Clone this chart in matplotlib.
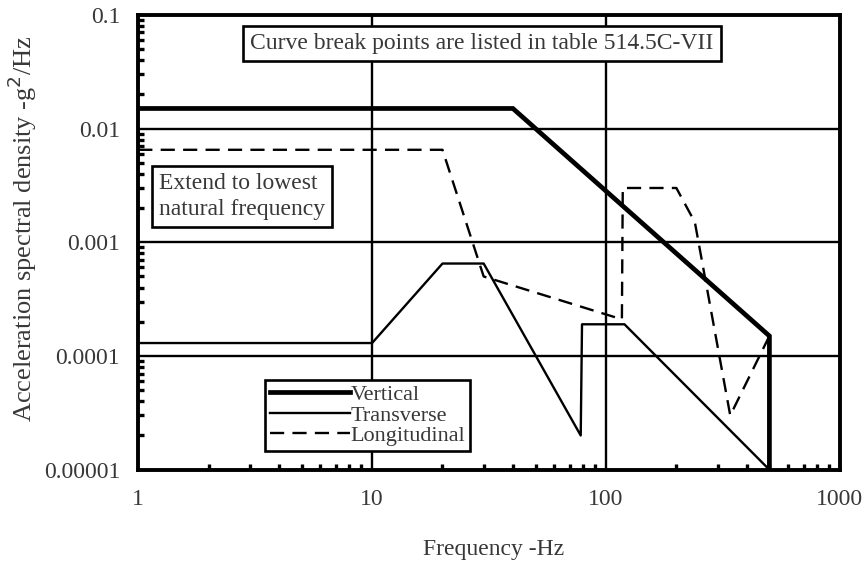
import matplotlib
matplotlib.use("Agg")
import matplotlib.pyplot as plt
from matplotlib.ticker import FixedLocator, FixedFormatter, LogLocator, NullFormatter

plt.rcParams["font.family"] = ["Liberation Serif", "DejaVu Serif"]

# break points (Hz, g^2/Hz)
vert_f = [1, 40, 500, 500]
vert_psd = [0.015, 0.015, 0.00015, 0.00001]

trans_f = [1, 10, 20, 30, 78, 79, 120, 500]
trans_psd = [0.00013, 0.00013, 0.00065, 0.00065, 0.00002, 0.00019, 0.00019, 0.00001]

long_f = [1, 20, 30, 117, 118, 200, 240, 340, 500]
long_psd = [0.0065, 0.0065, 0.0005, 0.00021, 0.003, 0.003, 0.0015, 0.00003, 0.00015]

x_ticks = [1, 10, 100, 1000]
x_labels = ["1", "10", "100", "1000"]
y_ticks = [0.00001, 0.0001, 0.001, 0.01, 0.1]
y_labels = ["0.00001", "0.0001", "0.001", "0.01", "0.1"]

txt = "#383838"
fs = 17

fig = plt.figure(figsize=(8.64, 5.68), dpi=100)
ax = fig.add_axes([0.160, 0.173, 0.812, 0.801])
ax.set_xscale("log")
ax.set_yscale("log")
ax.set_xlim(1, 1000)
ax.set_ylim(1e-5, 0.1)

for t in x_ticks[1:-1]:
    ax.axvline(t, color="black", lw=1.7, zorder=1)
for t in y_ticks[1:-1]:
    ax.axhline(t, color="black", lw=1.7, zorder=1)

ax.plot(vert_f, vert_psd, color="black", lw=3.4, label="Vertical", zorder=3,
        solid_joinstyle="miter")
ax.plot(trans_f, trans_psd, color="black", lw=1.7, label="Transverse", zorder=3)
ax.plot(long_f, long_psd, color="black", lw=1.7, dashes=(6, 3.5),
        label="Longitudinal", zorder=3)

ax.xaxis.set_major_locator(FixedLocator(x_ticks))
ax.xaxis.set_major_formatter(FixedFormatter(x_labels))
ax.yaxis.set_major_locator(FixedLocator(y_ticks))
ax.yaxis.set_major_formatter(FixedFormatter(y_labels))
ax.xaxis.set_minor_locator(LogLocator(base=10, subs=range(2, 10), numticks=20))
ax.yaxis.set_minor_locator(LogLocator(base=10, subs=range(2, 10), numticks=20))
ax.xaxis.set_minor_formatter(NullFormatter())
ax.yaxis.set_minor_formatter(NullFormatter())
ax.tick_params(which="major", direction="in", length=0, labelsize=fs,
               labelcolor=txt)
ax.tick_params(which="minor", direction="in", length=4.5, width=2.4, color="black")
ax.tick_params(axis="x", which="major", pad=14)
ax.tick_params(axis="y", which="major", pad=13)
for s in ax.spines.values():
    s.set_linewidth(2.8)

ax.set_xlabel("Frequency -Hz", fontsize=fs, color=txt, va="center")
ax.xaxis.set_label_coords(0.507, -0.175)
ax.set_ylabel("Acceleration spectral density -g$^2$/Hz", fontsize=19,
              color=txt, va="center")
ax.yaxis.set_label_coords(-0.166, 0.53)

box = dict(boxstyle="square,pad=0.3", facecolor="white", edgecolor="black",
           lw=1.9)
ax.text(0.49, 0.936, "Curve break points are listed in table 514.5C-VII",
        transform=ax.transAxes, ha="center", va="center", fontsize=fs,
        color=txt, bbox=box, zorder=5)
ax.text(0.03, 0.60, "Extend to lowest\nnatural frequency",
        transform=ax.transAxes, ha="left", va="center", fontsize=fs,
        color=txt, bbox=box, linespacing=1.3, zorder=5)

leg = ax.legend(loc="lower left", bbox_to_anchor=(0.181, 0.042), fontsize=16,
                frameon=True, fancybox=False, edgecolor="black",
                handlelength=3.6, handletextpad=0.05, borderpad=0.2,
                labelspacing=0.0, borderaxespad=0)
leg.get_frame().set_linewidth(1.9)
leg.get_frame().set_alpha(1)
for t in leg.get_texts():
    t.set_color(txt)
leg.set_zorder(6)

fig.savefig("out.png", dpi=100)
